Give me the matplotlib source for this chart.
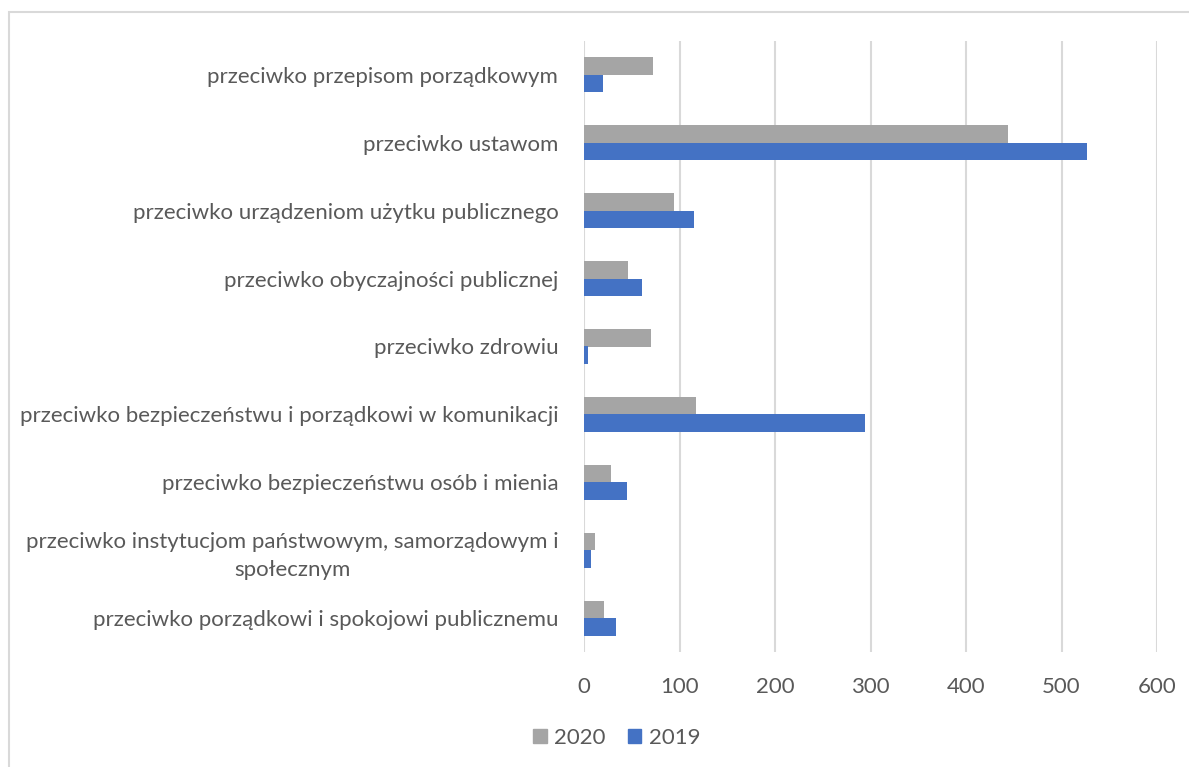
import matplotlib.pyplot as plt
import matplotlib.patches as mpatches
import numpy as np

categories = [
    'przeciwko przepisom porządkowym',
    'przeciwko ustawom',
    'przeciwko urządzeniom użytku publicznego',
    'przeciwko obyczajności publicznej',
    'przeciwko zdrowiu',
    'przeciwko bezpieczeństwu i porządkowi w komunikacji',
    'przeciwko bezpieczeństwu osób i mienia',
    'przeciwko instytucjom państwowym, samorządowym i\nspołecznym',
    'przeciwko porządkowi i spokojowi publicznemu',
]
values_2020 = [72, 444, 94, 46, 70, 117, 28, 11, 21]
values_2019 = [20, 527, 115, 61, 4, 294, 45, 7, 34]
xticks = [0, 100, 200, 300, 400, 500, 600]

GRAY = '#a5a5a5'
BLUE = '#4472c4'
TXT = '#595959'

plt.rcParams['font.family'] = ['Lato', 'DejaVu Sans']

fig = plt.figure(figsize=(11.89, 7.67), dpi=100)
# light frame like the pasted chart area
fig.patches.append(mpatches.Rectangle((9 / 1189, -0.1), 1.2, 1 - 12 / 767 + 0.1,
                                      transform=fig.transFigure, fill=False,
                                      edgecolor='#d9d9d9', linewidth=1.5))
ax = fig.add_axes([584 / 1189, 1 - 652 / 767, (1157 - 584) / 1189, (652 - 41) / 767])

y = np.arange(len(categories))
h = 0.258
ax.barh(y - h / 2, values_2020, height=h, color=GRAY, label='2020', zorder=3)
ax.barh(y + h / 2, values_2019, height=h, color=BLUE, label='2019', zorder=3)

ax.set_ylim(len(categories) - 0.5, -0.5)
ax.set_xlim(0, 600)
ax.set_xticks(xticks)
ax.set_xticklabels([str(t) for t in xticks])
ax.set_yticks(y)
ax.set_yticklabels(categories, multialignment='center', linespacing=1.5)
ax.tick_params(axis='both', length=0, labelsize=16, colors=TXT)
ax.tick_params(axis='y', pad=18.5)
ax.tick_params(axis='x', pad=18)
ax.grid(axis='x', color='#d9d9d9', linewidth=1.5, zorder=0)
for s in ax.spines.values():
    s.set_visible(False)

handles = [mpatches.Patch(color=GRAY, label='2020'), mpatches.Patch(color=BLUE, label='2019')]
fig.legend(handles=handles, loc='center', bbox_to_anchor=(617 / 1189, 1 - 738 / 767),
           ncol=2, frameon=False, fontsize=16, handlelength=0.6, handleheight=0.6,
           handletextpad=0.35, columnspacing=1.0, labelcolor=TXT)

fig.savefig('out.png', dpi=100)
